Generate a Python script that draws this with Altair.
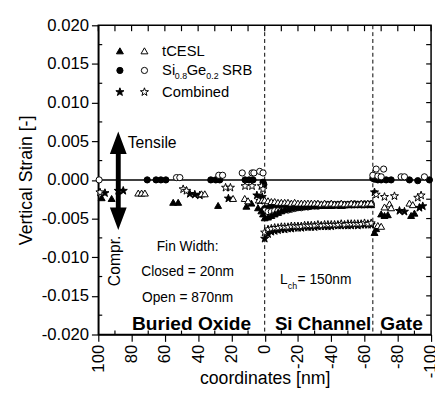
import altair as alt
import pandas as pd

# ---------------- data ----------------
ch_nm = [0, -2, -4, -6, -8, -10, -12, -14, -16, -18, -20, -22, -24, -26, -28, -30,
         -32, -34, -36, -38, -40, -42, -44, -46, -48, -50, -52, -54, -56, -58, -60, -62, -64]

# tCESL, closed fin (filled triangles)
tc_closed_nm = [98, 92, 55, 52, 28, 11, 8, 4, 2, 1] + ch_nm + [-66, -67, -70, -72, -74, -88, -90]
tc_closed_s = [-0.0023, -0.0024, -0.0029, -0.0029, -0.0033, -0.0034, -0.0030, -0.0036, -0.0040, -0.0044,
               -0.0049, -0.0048, -0.0046, -0.0044, -0.0042, -0.0040, -0.0038, -0.0037, -0.0036, -0.0035,
               -0.0035, -0.0034, -0.0034, -0.0034, -0.0033, -0.0033, -0.0033, -0.0033, -0.0033, -0.0032,
               -0.0033, -0.0032, -0.0032, -0.0033, -0.0032, -0.0032, -0.0032, -0.0032, -0.0031, -0.0032,
               -0.0032, -0.0031, -0.0032,
               -0.0068, -0.0063, -0.0044, -0.0046, -0.0045, -0.0046, -0.0043]

# tCESL, open fin (open triangles)
tc_open_nm = [76, 74, 72, 38, 36, 19, 12, 10, 3.5, 1.5] + ch_nm + [-68, -70, -72, -75, -76, -87, -89]
tc_open_s = [-0.0017, -0.0017, -0.0017, -0.0018, -0.0018, -0.0024, -0.0024, -0.0027, -0.0026, -0.0026,
             -0.0026, -0.0027, -0.0028, -0.0028, -0.0029, -0.0029, -0.0029, -0.0029, -0.0030, -0.0029,
             -0.0030, -0.0030, -0.0030, -0.0030, -0.0030, -0.0030, -0.0030, -0.0031, -0.0030, -0.0031,
             -0.0030, -0.0031, -0.0031, -0.0030, -0.0031, -0.0031, -0.0030, -0.0031, -0.0031, -0.0030,
             -0.0031, -0.0030, -0.0030,
             -0.0059, -0.0060, -0.0035, -0.0031, -0.0036, -0.0030, -0.0032]

# Si0.8Ge0.2 SRB, closed fin (filled circles)
srb_closed_nm = [70.6, 65.3, 62.4, 59.4, 32.4, 29.4, 27, 11.8, 9.4, 7, 1, 0.5] + ch_nm + \
                [-65, -66, -68, -70, -73, -76, -87, -92, -99]
srb_closed_s = [0, 0, 0, 0, 0, 0, 0, 0, 0, 0, -0.0003, -0.0006,
                -0.0037, -0.0037, -0.0036, -0.0036, -0.0035, -0.0035, -0.0034, -0.0034, -0.0034, -0.0034,
                -0.0033, -0.0033, -0.0033, -0.0033, -0.0033, -0.0033, -0.0032, -0.0033, -0.0032, -0.0032,
                -0.0032, -0.0032, -0.0032, -0.0032, -0.0032, -0.0032, -0.0032, -0.0031, -0.0032, -0.0032,
                -0.0031, -0.0032, -0.0031,
                0.0002, 0.0001, 0.0, 0.0, 0.0, 0.0, 0.0, -0.0001, 0.0]

# Si0.8Ge0.2 SRB, open fin (open circles)
srb_open_nm = [99.5, 53, 51, 27.6, 25.3, 13.5, 7.6, 6.5, 3, 1] + ch_nm + \
              [-65, -67, -68, -71.5, -70, -82, -84, -96]
srb_open_s = [0.0, 0.0003, 0.0003, 0.0006, 0.0006, 0.0009, 0.0009, 0.0009, 0.0011, 0.0009,
              -0.0040, -0.0041, -0.0041, -0.0040, -0.0040, -0.0040, -0.0039, -0.0039, -0.0038, -0.0037,
              -0.0036, -0.0036, -0.0035, -0.0035, -0.0034, -0.0034, -0.0034, -0.0033, -0.0033, -0.0033,
              -0.0033, -0.0033, -0.0033, -0.0032, -0.0033, -0.0032, -0.0032, -0.0032, -0.0032, -0.0032,
              -0.0032, -0.0032, -0.0032,
              0.0006, 0.0014, 0.0005, 0.0014, 0.0004, 0.0004, 0.0004, 0.0004]

# Combined, closed fin (filled stars)
cb_closed_nm = [96, 88, 85, 45, 42, 39, 21.8, 4.7, 2.9, 1.5] + ch_nm + [-66, -81, -84, -93, -95]
cb_closed_s = [-0.0017, -0.0014, -0.0014, -0.0018, -0.0019, -0.0020, -0.0024, -0.0020, -0.0027, -0.0022,
               -0.0076, -0.0070, -0.0067, -0.0066, -0.0065, -0.0064, -0.0064, -0.0063, -0.0063, -0.0062,
               -0.0062, -0.0062, -0.0061, -0.0061, -0.0061, -0.0061, -0.0060, -0.0060, -0.0060, -0.0060,
               -0.0060, -0.0059, -0.0059, -0.0059, -0.0059, -0.0059, -0.0059, -0.0058, -0.0059, -0.0058,
               -0.0058, -0.0058, -0.0058,
               -0.0016, -0.0040, -0.0041, -0.0036, -0.0034]

# Combined, open fin (open stars)
cb_open_nm = [99, 49, 47, 23.5, 20.6, 11.8, 7.6, 2, 1] + ch_nm + [-67, -72, -78, -92, -94]
cb_open_s = [-0.0016, -0.0012, -0.0014, -0.0010, -0.0010, -0.0008, -0.0008, -0.0008, -0.0012,
             -0.0068, -0.0064, -0.0063, -0.0062, -0.0062, -0.0061, -0.0061, -0.0061, -0.0060, -0.0060,
             -0.0060, -0.0060, -0.0059, -0.0059, -0.0059, -0.0059, -0.0058, -0.0059, -0.0058, -0.0058,
             -0.0058, -0.0058, -0.0058, -0.0057, -0.0058, -0.0057, -0.0057, -0.0057, -0.0057, -0.0057,
             -0.0056, -0.0057, -0.0056,
             -0.0019, -0.0022, -0.0021, -0.0023, -0.0020]

# axes / ticks
x_major = [100, 80, 60, 40, 20, 0, -20, -40, -60, -80, -100]
x_minor = [90, 70, 50, 30, 10, -10, -30, -50, -70, -90]
y_major = [-0.020, -0.015, -0.010, -0.005, 0.000, 0.005, 0.010, 0.015, 0.020]
y_minor = [-0.0175, -0.0125, -0.0075, -0.0025, 0.0025, 0.0075, 0.0125, 0.0175]

region_bounds = [0, -65]     # dashed lines (nm)
arrow_nm = [88]
arrow_top, arrow_bottom = [0.0040], [-0.0042]

W, H = 339, 315
FONT = "Liberation Sans"
STAR = ("M 0 -1 L 0.235 -0.324 L 0.951 -0.309 L 0.38 0.124 L 0.588 0.809 L 0 0.4 "
        "L -0.588 0.809 L -0.38 0.124 L -0.951 -0.309 L -0.235 -0.324 Z")
xs = alt.Scale(domain=[100, -100], nice=False, zero=False)
ys = alt.Scale(domain=[-0.02, 0.02], nice=False, zero=False)
HYPHEN = "replace(datum.label, '\u2212', '-')"

X_AXIS = alt.Axis(values=x_major, labelAngle=-90, labelFontSize=17, tickSize=7, tickWidth=1.2,
                  domainWidth=1.5, labelPadding=3, labelExpr=HYPHEN, title="coordinates [nm]",
                  titleFontSize=18, titleFontWeight="normal", titleY=36, grid=False)
Y_AXIS = alt.Axis(values=y_major, format=".3f", labelFontSize=17, tickSize=7, tickWidth=1.2,
                  domainWidth=1.5, labelPadding=3, labelExpr=HYPHEN, title="Vertical Strain [-]",
                  titleFontSize=18, titleFontWeight="normal", titlePadding=6, grid=False)


def X(field="nm"):
    return alt.X(f"{field}:Q", scale=xs, axis=X_AXIS)


def Y(field="strain"):
    return alt.Y(f"{field}:Q", scale=ys, axis=Y_AXIS)


def pts(nm, s, shape, filled, size):
    return alt.Chart(pd.DataFrame({"nm": nm, "strain": s})).mark_point(
        shape=shape, filled=True, fill="black" if filled else "white",
        stroke="black", strokeWidth=1, size=size, opacity=1
    ).encode(x=X(), y=Y())


zero_line = alt.Chart(pd.DataFrame({"strain": [0.0]})).mark_rule(color="black", strokeWidth=1.5).encode(
    y=Y(), x=alt.value(0), x2=alt.value(W))

dashes = alt.Chart(pd.DataFrame({"nm": region_bounds})).mark_rule(
    color="black", strokeWidth=1, strokeDash=[4, 3]
).encode(x=X(), y=alt.value(0), y2=alt.value(H))

top_ticks = alt.Chart(pd.DataFrame({"nm": x_major + x_minor})).mark_rule(color="black", strokeWidth=1.2).encode(
    x=X(), y=alt.value(0), y2=alt.value(6))
bot_minor = alt.Chart(pd.DataFrame({"nm": x_minor})).mark_rule(color="black", strokeWidth=1.2).encode(
    x=X(), y=alt.value(H - 4), y2=alt.value(H))
right_ticks = alt.Chart(pd.DataFrame({"strain": y_major[1:-1] + y_minor})).mark_rule(
    color="black", strokeWidth=1.2).encode(y=Y(), x=alt.value(W - 5), x2=alt.value(W))
left_minor = alt.Chart(pd.DataFrame({"strain": y_minor})).mark_rule(color="black", strokeWidth=1.2).encode(
    y=Y(), x=alt.value(0), x2=alt.value(4))

# double arrow
shaft = alt.Chart(pd.DataFrame({"nm": arrow_nm, "strain": arrow_top, "b": arrow_bottom})).mark_rule(
    color="black", strokeWidth=5).encode(x=X(), y=Y(), y2="b:Q")
head_up = alt.Chart(pd.DataFrame({"nm": arrow_nm, "strain": [0.0047]})).mark_point(
    shape="M 0 -1 L 0.75 1 L -0.75 1 Z", filled=True, fill="black", stroke="black", size=361, opacity=1
).encode(x=X(), y=Y())
head_dn = alt.Chart(pd.DataFrame({"nm": arrow_nm, "strain": [-0.0049]})).mark_point(
    shape="M 0 1 L 0.75 -1 L -0.75 -1 Z", filled=True, fill="black", stroke="black", size=361, opacity=1
).encode(x=X(), y=Y())

ONE = pd.DataFrame({"k": [0]})


def label(t, px, py, size, align="left", weight="normal", angle=0):
    return alt.Chart(ONE).mark_text(
        color="black", font=FONT, fontSize=size, align=align, baseline="middle",
        fontWeight=weight, angle=angle
    ).encode(x=alt.value(px), y=alt.value(py), text=alt.value(t))


def sym(shape, filled, px, py, size):
    return alt.Chart(ONE).mark_point(shape=shape, filled=True, fill="black" if filled else "white",
                                     stroke="black", strokeWidth=1, size=size, opacity=1).encode(
        x=alt.value(px), y=alt.value(py))


texts = [
    label("Fin Width:", 91, 226, 14, "center"),
    label("Closed = 20nm", 91, 251, 14, "center"),
    label("Open = 870nm", 91, 278, 14, "center"),
    label("Buried Oxide", 95, 304, 19.5, "center", "bold"),
    label("Si Channel", 229, 304, 19, "center", "bold"),
    label("Gate", 309, 304, 19.5, "center", "bold"),
    label("Tensile", 30, 120, 16),
    label("Compr.", 17, 240, 16, "center", angle=270),
    label("L", 185, 260, 14),
    label("ch", 193, 266, 9),
    label("= 150nm", 203, 260, 14),
    label("tCESL", 65, 26, 15),
    label("Si", 65, 46, 15),
    label("0.8", 78, 52, 9),
    label("Ge", 90, 46, 15),
    label("0.2", 110, 52, 9),
    label("SRB", 126, 46, 15),
    label("Combined", 65, 68, 15),
]

legend = [sym("triangle-up", True, 22, 26, 50), sym("triangle-up", False, 47, 26, 50),
          sym("circle", True, 22, 46, 40), sym("circle", False, 47, 46, 40),
          sym(STAR, True, 22, 68, 75), sym(STAR, False, 47, 68, 75)]

points = [
    pts(srb_closed_nm, srb_closed_s, "circle", True, 40),
    pts(srb_open_nm, srb_open_s, "circle", False, 40),
    pts(cb_closed_nm, cb_closed_s, STAR, True, 75),
    pts(cb_open_nm, cb_open_s, STAR, False, 75),
    pts(tc_closed_nm, tc_closed_s, "triangle-up", True, 50),
    pts(tc_open_nm, tc_open_s, "triangle-up", False, 50),
]

chart = alt.layer(
    zero_line, dashes, top_ticks, bot_minor, right_ticks, left_minor,
    *points, shaft, head_up, head_dn, *texts, *legend
).properties(
    width=W, height=H,
    autosize=alt.AutoSizeParams(type="none"),
    padding={"left": 92, "top": 14, "right": 4, "bottom": 58},
).configure(font=FONT).configure_view(stroke="black", strokeWidth=1.5).configure_axis(
    domainColor="black", tickColor="black", labelColor="black", titleColor="black", labelFont=FONT,
    titleFont=FONT
)

chart.save("out.html", embed_options={"renderer": "svg", "actions": False})
